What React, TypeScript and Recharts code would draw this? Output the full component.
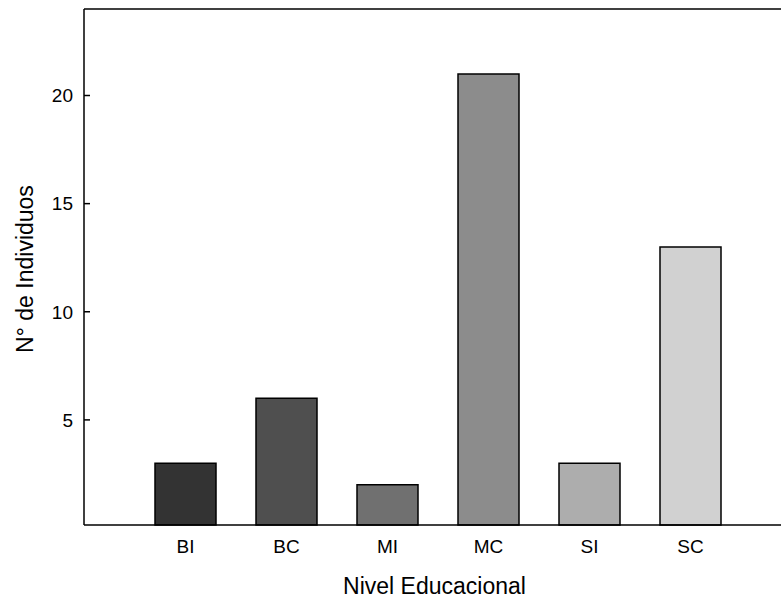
import React from 'react';
import { BarChart, Bar, XAxis, YAxis, Cell, ReferenceLine } from 'recharts';

const categories = ['BI', 'BC', 'MI', 'MC', 'SI', 'SC'];
const counts = [3, 6, 2, 21, 3, 13];
const barColors = ['#333333', '#4f4f4f', '#707070', '#8c8c8c', '#adadad', '#d1d1d1'];
const yTicks = [5, 10, 15, 20];

const data = categories.map((c, i) => ({ name: c, value: counts[i] }));

const font = '"Liberation Sans", Arial, sans-serif';

const YTitle = (props: any) => {
  const vb = props.viewBox;
  const cx = vb.x + 25;
  const cy = vb.y + vb.height / 2 + 2;
  return (
    <text
      x={cx}
      y={cy}
      transform={`rotate(-90 ${cx} ${cy})`}
      textAnchor="middle"
      dominantBaseline="central"
      fontSize={23}
      fontFamily={font}
      fill="#000"
    >
      N° de Individuos
    </text>
  );
};

const App = () => {
  return (
    <div style={{ position: 'absolute', left: 0, top: 0, background: '#fff' }}>
      <BarChart
        width={781}
        height={600}
        data={data}
        margin={{ top: 9, right: 0, left: 0, bottom: 0 }}
      >
        <XAxis
          dataKey="name"
          height={75}
          padding={{ left: 51, right: 40 }}
          tickLine={false}
          tickSize={0}
          tickMargin={15}
          axisLine={{ stroke: '#000', strokeWidth: 1.5 }}
          tick={{ fill: '#000', fontSize: 19, fontFamily: font }}
          label={{ value: 'Nivel Educacional', position: 'insideBottom', offset: 6, dx: 2, fill: '#000', fontSize: 23, fontFamily: font }}
        />
        <YAxis
          width={84}
          domain={[0.14, 24]}
          ticks={yTicks}
          tickSize={-6}
          tickMargin={17}
          tickLine={{ stroke: '#000', strokeWidth: 1.5 }}
          axisLine={{ stroke: '#000', strokeWidth: 1.5 }}
          tick={{ fill: '#000', fontSize: 19, fontFamily: font }}
          label={<YTitle />}
        />
        <ReferenceLine y={24} stroke="#000" strokeWidth={1.5} ifOverflow="visible" />
        <Bar dataKey="value" barSize={61} stroke="#000" strokeWidth={1.5} isAnimationActive={false}>
          {data.map((d, i) => (
            <Cell key={d.name} fill={barColors[i]} />
          ))}
        </Bar>
      </BarChart>
    </div>
  );
};

export default App;
